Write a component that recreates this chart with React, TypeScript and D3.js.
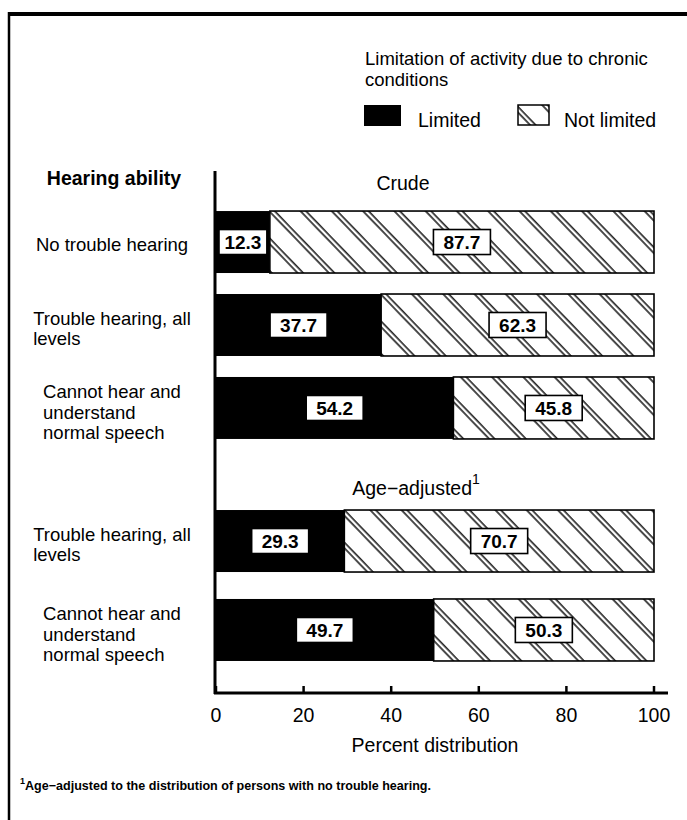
import React from "react";
import * as d3 from "d3";

const crudeCategories = [
  ["No trouble hearing"],
  ["Trouble hearing, all", "levels"],
  ["Cannot hear and", "understand", "normal speech"],
];
const crudeLimited = [12.3, 37.7, 54.2];
const crudeNotLimited = [87.7, 62.3, 45.8];

const ageCategories = [
  ["Trouble hearing, all", "levels"],
  ["Cannot hear and", "understand", "normal speech"],
];
const ageLimited = [29.3, 49.7];
const ageNotLimited = [70.7, 50.3];

const xTicks = [0, 20, 40, 60, 80, 100];

const FONT = "'Liberation Sans', Arial, Helvetica, sans-serif";

let ctx: CanvasRenderingContext2D | null = null;
function measure(text: string, size: number, weight = "normal") {
  if (!ctx) ctx = document.createElement("canvas").getContext("2d");
  if (!ctx) return text.length * size * 0.5;
  ctx.font = `${weight} ${size}px ${FONT}`;
  return ctx.measureText(text).width;
}

export default function App() {
  const W = 687;
  const H = 820;
  const x = d3.scaleLinear().domain([0, 100]).range([216, 654]);

  const crudeIds = crudeCategories.map((_, i) => "c" + i);
  const ageIds = ageCategories.map((_, i) => "a" + i);
  const yCrude = d3
    .scaleBand<string>()
    .domain(crudeIds)
    .range([200.5, 449.5])
    .paddingInner(0.253)
    .paddingOuter(0.127);
  const yAge = d3
    .scaleBand<string>()
    .domain(ageIds)
    .range([496.5, 674.5])
    .paddingInner(0.303)
    .paddingOuter(0.152);

  const rows = [
    ...crudeCategories.map((lines, i) => ({
      lines,
      lim: crudeLimited[i],
      not: crudeNotLimited[i],
      y: yCrude(crudeIds[i])!,
      h: yCrude.bandwidth(),
    })),
    ...ageCategories.map((lines, i) => ({
      lines,
      lim: ageLimited[i],
      not: ageNotLimited[i],
      y: yAge(ageIds[i])!,
      h: yAge.bandwidth(),
    })),
  ];

  const labelSize = 18.5;
  const labelCenterX = 112;
  const lineH = 20.7;

  const valueBox = (v: number, x0: number, x1: number, cy: number, key: string) => {
    const cx = (x0 + x1) / 2;
    const bw = Math.min(57, x1 - x0 - 6);
    const bh = 25;
    return (
      <g key={key}>
        <rect x={cx - bw / 2} y={cy - bh / 2} width={bw} height={bh} fill="#fff" stroke="#000" strokeWidth={1.6} />
        <text x={cx} y={cy + 7} textAnchor="middle" fontSize={19} fontWeight="bold" fontFamily={FONT} fill="#000">
          {v.toFixed(1)}
        </text>
      </g>
    );
  };

  return (
    <svg width={W} height={H} style={{ position: "absolute", left: 0, top: 0, background: "#fff" }} fontFamily={FONT}>
      <defs>
        <pattern id="hatch" patternUnits="userSpaceOnUse" width={22.5} height={10} patternTransform="rotate(-44)">
          <rect width={22.5} height={10} fill="#fff" />
          <line x1={2} y1={0} x2={2} y2={10} stroke="#000" strokeWidth={1.4} />
          <line x1={6} y1={0} x2={6} y2={10} stroke="#000" strokeWidth={1.4} />
        </pattern>
      </defs>
      <rect x={0} y={0} width={W} height={H} fill="#fff" />
      {/* frame */}
      <line x1={8} y1={14} x2={687} y2={14} stroke="#000" strokeWidth={4} />
      <line x1={9} y1={12} x2={9} y2={H} stroke="#000" strokeWidth={2.5} />

      {/* legend */}
      <text x={365} y={64.5} fontSize={18.5} fill="#000">Limitation of activity due to chronic</text>
      <text x={365} y={85.5} fontSize={18.5} fill="#000">conditions</text>
      <rect x={364} y={105} width={37} height={21} fill="#000" />
      <text x={418} y={127} fontSize={19.5} fill="#000">Limited</text>
      <rect x={518} y={105} width={31} height={20} fill="url(#hatch)" stroke="#000" strokeWidth={1.5} />
      <text x={564} y={127} fontSize={19.5} fill="#000">Not limited</text>

      {/* headers */}
      <text x={114} y={185} fontSize={19.5} fontWeight="bold" textAnchor="middle" fill="#000">Hearing ability</text>
      <text x={403} y={190} fontSize={19.5} textAnchor="middle" fill="#000">Crude</text>
      <text x={416} y={495} fontSize={19.5} textAnchor="middle" fill="#000">
        Age−adjusted
        <tspan fontSize={14} dy={-11}>1</tspan>
      </text>

      {/* bars */}
      {rows.map((r, i) => {
        const cy = r.y + r.h / 2;
        const xl0 = x(0);
        const xl1 = x(r.lim);
        const xn1 = x(r.lim + r.not);
        return (
          <g key={"bar" + i}>
            <rect x={xl0} y={r.y} width={xl1 - xl0} height={r.h} fill="#000" />
            <rect x={xl1} y={r.y} width={xn1 - xl1} height={r.h} fill="url(#hatch)" stroke="#000" strokeWidth={1.6} />
            {valueBox(r.lim, xl0, xl1, cy, "l" + i)}
            {valueBox(r.not, xl1, xn1, cy, "n" + i)}
          </g>
        );
      })}

      {/* category labels */}
      {rows.map((r, i) => {
        const cy = r.y + r.h / 2;
        const n = r.lines.length;
        const maxW = Math.max(...r.lines.map((l) => measure(l, labelSize)));
        const left = labelCenterX - maxW / 2;
        const first = cy + 9 - (n - 1) * 9.5;
        return (
          <text key={"lab" + i} fontSize={labelSize} fill="#000">
            {r.lines.map((l, j) => (
              <tspan key={j} x={left} y={first + j * lineH}>
                {l}
              </tspan>
            ))}
          </text>
        );
      })}

      {/* axes */}
      <line x1={215} y1={171} x2={215} y2={694} stroke="#000" strokeWidth={3} />
      <line x1={214} y1={693} x2={668} y2={693} stroke="#000" strokeWidth={3} />
      {xTicks.map((t) => (
        <g key={"t" + t}>
          <line x1={x(t)} y1={693} x2={x(t)} y2={686} stroke="#000" strokeWidth={2.5} />
          <text x={x(t)} y={722} fontSize={19.5} textAnchor="middle" fill="#000">
            {t}
          </text>
        </g>
      ))}
      <text x={435} y={752} fontSize={19.5} textAnchor="middle" fill="#000">Percent distribution</text>

      {/* footnote */}
      <text x={20} y={790} fontSize={13} fontWeight="bold" fill="#000">
        <tspan fontSize={9} dy={-6}>1</tspan>
        <tspan dy={6} textLength={406} lengthAdjust="spacingAndGlyphs">
          Age−adjusted to the distribution of persons with no trouble hearing.
        </tspan>
      </text>
    </svg>
  );
}
